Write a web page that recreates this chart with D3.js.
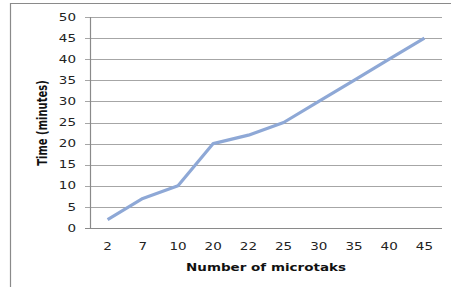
<!DOCTYPE html>
<html>
<head>
<meta charset="utf-8">
<script src="https://cdn.jsdelivr.net/npm/d3@7"></script>
<style>
  body { margin: 0; background: #fff; }
  text { font-family: "DejaVu Sans", Verdana, sans-serif; }
</style>
</head>
<body>
<div id="chart"></div>
<script>
// microtask counts (categories) and time taken in minutes
var categories = ["2", "7", "10", "20", "22", "25", "30", "35", "40", "45"];
var minutes = [2, 7, 10, 20, 22, 25, 30, 35, 40, 45];
var yTicks = [0, 5, 10, 15, 20, 25, 30, 35, 40, 45, 50];

var width = 451, height = 287;
var margin = { top: 17, right: 9, bottom: 59, left: 90 };
// the source picture is stretched sideways, so text is too
var stretch = 1.35;

var svg = d3.select("#chart").append("svg")
  .attr("width", width)
  .attr("height", height);

// outer frame (only the top and left edges show)
svg.append("line").attr("x1", 10.5).attr("x2", 10.5).attr("y1", 3).attr("y2", height)
  .attr("stroke", "#8a8a8a").attr("stroke-width", 1.2);
svg.append("line").attr("x1", 10).attr("x2", width).attr("y1", 3.5).attr("y2", 3.5)
  .attr("stroke", "#8a8a8a").attr("stroke-width", 1.2);

var x = d3.scaleBand()
  .domain(categories)
  .range([margin.left, width - margin.right]);

var y = d3.scaleLinear()
  .domain([0, 50])
  .range([height - margin.bottom, margin.top]);

//gridlines with the little tick stubs on the left
var g = svg.append("g");
g.selectAll("line.grid").data(yTicks).enter().append("line")
  .attr("class", "grid")
  .attr("x1", margin.left - 5)
  .attr("x2", width - margin.right)
  .attr("y1", function (d) { return Math.round(y(d)) + 0.5; })
  .attr("y2", function (d) { return Math.round(y(d)) + 0.5; })
  .attr("stroke", function (d) { return d == 0 ? "#8a8a8a" : "#a6a6a6"; })
  .attr("stroke-width", 1.2);

// y axis line
svg.append("line")
  .attr("x1", margin.left + 0.5).attr("x2", margin.left + 0.5)
  .attr("y1", y(50)).attr("y2", y(0))
  .attr("stroke", "#8a8a8a").attr("stroke-width", 1.2);

// y tick labels
g.selectAll("text.ytick").data(yTicks).enter().append("text")
  .attr("class", "ytick")
  .attr("transform", function (d) {
    return "translate(" + (margin.left - 14) + "," + y(d) + ") scale(" + stretch + ",1)";
  })
  .attr("dy", "0.36em")
  .attr("text-anchor", "end")
  .attr("font-size", 10)
  .attr("fill", "#222")
  .text(function (d) { return d; });

// x tick labels
g.selectAll("text.xtick").data(categories).enter().append("text")
  .attr("class", "xtick")
  .attr("transform", function (d) {
    return "translate(" + (x(d) + x.bandwidth() / 2) + "," + (y(0) + 22) + ") scale(" + stretch + ",1)";
  })
  .attr("text-anchor", "middle")
  .attr("font-size", 10)
  .attr("fill", "#222")
  .text(function (d) { return d; });

// the series line
var line = d3.line()
  .x(function (d, i) { return x(categories[i]) + x.bandwidth() / 2; })
  .y(function (d) { return y(d); });

svg.append("path")
  .datum(minutes)
  .attr("d", line)
  .attr("fill", "none")
  .attr("stroke", "#8ea8d6")
  .attr("stroke-width", 3.2)
  .attr("stroke-linejoin", "round");

// axis titles
svg.append("text")
  .attr("transform", "translate(" + (margin.left + width - margin.right) / 2 + ",271) scale(" + stretch + ",1)")
  .attr("text-anchor", "middle")
  .attr("font-size", 10)
  .attr("font-weight", "bold")
  .attr("fill", "#111")
  .text("Number of microtaks");

svg.append("text")
  .attr("transform", "translate(47,123) rotate(-90) scale(1," + stretch + ")")
  .attr("text-anchor", "middle")
  .attr("font-size", 10)
  .attr("font-weight", "bold")
  .attr("fill", "#111")
  .text("Time (minutes)");
</script>
</body>
</html>
